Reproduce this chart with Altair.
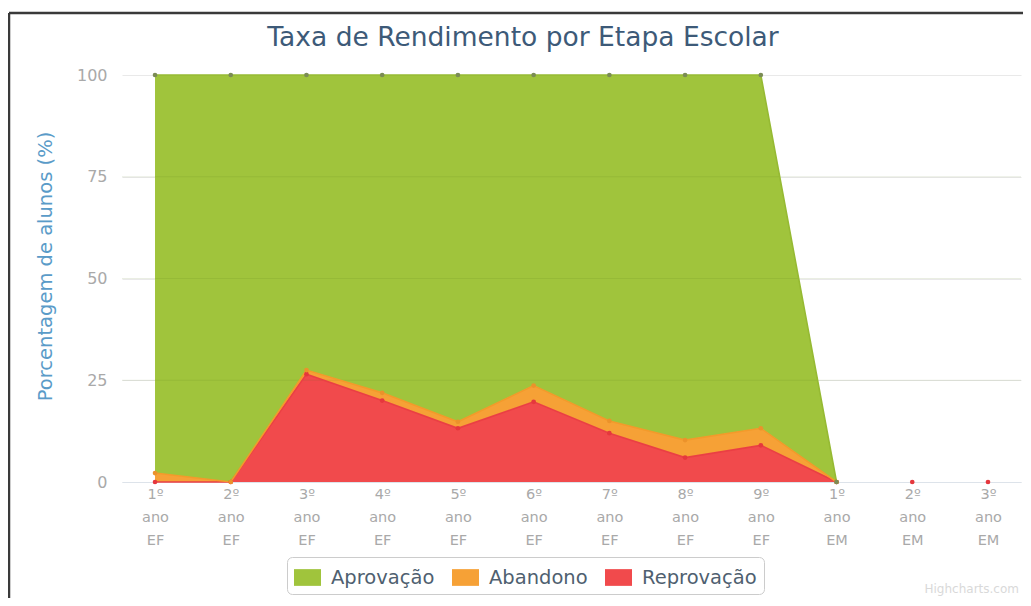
import altair as alt
import pandas as pd

# ---- data ----
etapas = ["1º ano EF", "2º ano EF", "3º ano EF", "4º ano EF", "5º ano EF",
          "6º ano EF", "7º ano EF", "8º ano EF", "9º ano EF",
          "1º ano EM", "2º ano EM", "3º ano EM"]
reprovacao = [0, 0, 26.5, 20.0, 13.2, 19.7, 12.0, 6.0, 9.0, 0, 0, 0]
abandono = [2.2, 0, 1.0, 1.9, 1.6, 4.0, 3.0, 4.3, 4.2, 0, None, None]
aprovacao = [97.8, 100, 72.5, 78.1, 85.2, 76.3, 85.0, 89.7, 86.8, 0, None, None]

series = ["Aprovação", "Abandono", "Reprovação"]
cores = ["#a0c43c", "#f6a136", "#f14a4c"]
cores_linha = ["#96ba33", "#f39a2a", "#ea3f44"]
cores_marcador = ["#7b8c55", "#eb922b", "#e5373d"]
y_ticks = [0, 25, 50, 75, 100]
titulo = "Taxa de Rendimento por Etapa Escolar"

# ---- stacked table (bottom: Reprovação, then Abandono, then Aprovação) ----
rows = []
for i, etapa in enumerate(etapas):
    base = 0.0
    completo = abandono[i] is not None
    for nome, vals in [("Reprovação", reprovacao), ("Abandono", abandono), ("Aprovação", aprovacao)]:
        v = vals[i]
        if v is None:
            continue
        rows.append({"etapa": etapa, "serie": nome, "lo": base, "hi": base + v,
                     "completo": completo})
        base += v
df = pd.DataFrame(rows)

FONT = "DejaVu Sans"

x_enc = alt.X("etapa:N", sort=etapas,
              scale=alt.Scale(type="point", padding=0.436),
              axis=alt.Axis(title=None, labelAngle=0,
                            labelExpr="split(datum.label, ' ')",
                            labelLineHeight=23, labelBaseline="top",
                            labelPadding=5, ticks=False,
                            domainColor="#dde3ea", labelColor="#a9a9a9",
                            labelFont=FONT, labelFontSize=14.5))
y_scale = alt.Scale(domain=[0, 100], nice=False)
y_axis = alt.Axis(title="Porcentagem de alunos (%)", values=y_ticks,
                  domain=False, ticks=False, labelPadding=15,
                  labelFont=FONT, labelFontSize=16, labelColor="#a9a9a9",
                  gridColor="#e9e9e9", titleFont=FONT, titleFontSize=19.5,
                  titleFontWeight="normal", titleColor="#5a9bc8",
                  titleX=-77, titleY=191, titleAngle=-90,
                  titleAlign="center", titleBaseline="middle")

base = alt.Chart(df)

area = base.transform_filter("datum.completo").mark_area(opacity=1).encode(
    x=x_enc,
    y=alt.Y("hi:Q", scale=y_scale, axis=y_axis),
    y2="lo:Q",
    color=alt.Color("serie:N", scale=alt.Scale(domain=series, range=cores),
                    legend=alt.Legend(title=None)),
    detail="serie:N",
)

grade = alt.Chart(pd.DataFrame({"v": y_ticks[1:-1]})).mark_rule(
    color="#55701a", opacity=0.12, strokeWidth=1
).encode(y=alt.Y("v:Q", scale=y_scale))

linha = base.transform_filter("datum.completo").mark_line(strokeWidth=1.6).encode(
    x=alt.X("etapa:N", sort=etapas),
    y=alt.Y("hi:Q", scale=y_scale),
    stroke=alt.Stroke("serie:N", scale=alt.Scale(domain=series, range=cores_linha),
                      legend=None),
)

pontos = base.mark_point(filled=True, size=22, opacity=1).encode(
    x=alt.X("etapa:N", sort=etapas),
    y=alt.Y("hi:Q", scale=y_scale),
    fill=alt.Fill("serie:N", scale=alt.Scale(domain=series, range=cores_marcador),
                  legend=None),
)

titulo_txt = alt.Chart(pd.DataFrame({"t": [titulo]})).mark_text(
    align="center", baseline="alphabetic", font=FONT, fontSize=26.5, color="#3d5a78"
).encode(text="t:N", x=alt.value(401), y=alt.value(-29))

credito = alt.Chart(pd.DataFrame({"t": ["Highcharts.com"]})).mark_text(
    align="right", baseline="alphabetic", font=FONT, fontSize=12, color="#d9d9d9"
).encode(text="t:N", x=alt.value(897), y=alt.value(518))

moldura_esq = alt.Chart(pd.DataFrame({"k": [0]})).mark_rule(
    color="#3a3a3a", strokeWidth=2.5
).encode(x=alt.value(-113), y=alt.value(-62), y2=alt.value(530))
moldura_topo = alt.Chart(pd.DataFrame({"k": [0]})).mark_rule(
    color="#3a3a3a", strokeWidth=2.5
).encode(x=alt.value(-113), x2=alt.value(905), y=alt.value(-62))

chart = alt.layer(area, grade, linha, pontos, titulo_txt, credito,
                  moldura_esq, moldura_topo).resolve_scale(
    color="independent"
).properties(
    width=899, height=407,
    autosize=alt.AutoSizeParams(type="none"),
    padding={"left": 114, "top": 67, "right": 2, "bottom": 116},
).configure_view(stroke=None).configure_legend(
    orient="none", legendX=165, legendY=482, direction="horizontal",
    padding=7, strokeColor="#cccccc", cornerRadius=5, fillColor="white",
    labelFont=FONT, labelFontSize=19.5, labelColor="#4f5f70",
    symbolType="M-1,-0.62H1V0.62H-1Z", symbolSize=729, symbolStrokeWidth=0,
    symbolOpacity=1, columnPadding=17, labelOffset=10,
)

chart.save("out.html", embed_options={"renderer": "svg", "actions": False})
